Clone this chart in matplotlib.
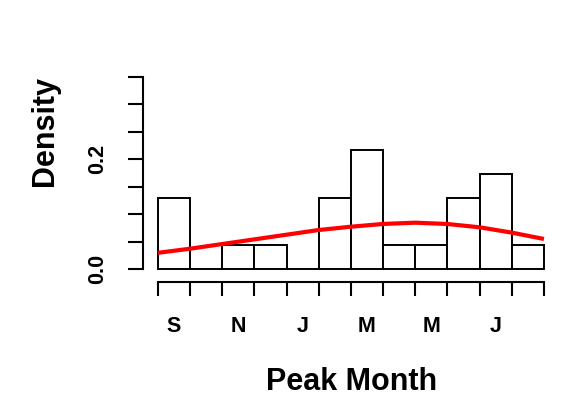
import matplotlib
matplotlib.use('Agg')
import matplotlib.pyplot as plt
import numpy as np

plt.rcParams['font.family'] = ['Liberation Sans', 'DejaVu Sans']
plt.rcParams['font.weight'] = 'bold'

# histogram: 12 monthly bins starting in September
bin_edges = [0, 1, 2, 3, 4, 5, 6, 7, 8, 9, 10, 11, 12]
counts = [3, 0, 1, 1, 0, 3, 5, 1, 1, 3, 4, 1]
month_pos = [0.5, 2.5, 4.5, 6.5, 8.5, 10.5]
month_labels = ['S', 'N', 'J', 'M', 'M', 'J']

# fitted density curve at the bin edges
curve_x = [0, 1, 2, 3, 4, 5, 6, 7, 8, 9, 10, 11, 12]
curve_y = [0.030, 0.0375, 0.046, 0.0545, 0.063, 0.0715, 0.0775,
           0.0825, 0.0848, 0.0824, 0.0764, 0.0667, 0.0552]

ytick_vals = [0.0, 0.05, 0.10, 0.15, 0.20, 0.25, 0.30, 0.35]
ytick_text = ['0.0', '', '', '', '0.2', '', '', '']

density = np.array(counts) / sum(counts)

fig = plt.figure(figsize=(5.62, 3.97), dpi=100)
ax = fig.add_axes([0.2536, 0.2889, 0.7418, 0.5373])

ax.bar(bin_edges[:-1], density, width=1, align='edge', color='white',
       edgecolor='black', linewidth=1.4, zorder=2)
ax.plot(curve_x, curve_y, color='#ff0000', linewidth=3, zorder=3,
        solid_capstyle='butt', solid_joinstyle='round')

ax.set_xlim(-0.48, 12.48)
ax.set_ylim(-0.0236, 0.3642)

for s in ['top', 'right']:
    ax.spines[s].set_visible(False)
ax.spines['left'].set_bounds(0, 0.35)
ax.spines['bottom'].set_bounds(0, 12)
ax.spines['left'].set_linewidth(1.5)
ax.spines['bottom'].set_linewidth(1.5)

ax.set_xticks(bin_edges)
ax.set_xticklabels([''] * len(bin_edges))
ax.set_xticks(month_pos, minor=True)
ax.set_xticklabels(month_labels, minor=True, fontsize=15.5, fontweight='bold')
ax.tick_params(axis='x', which='major', length=10, width=1.5)
ax.tick_params(axis='x', which='minor', length=0, pad=24)

ax.set_yticks(ytick_vals)
ax.set_yticklabels(ytick_text, rotation=90, va='center', fontsize=15.5,
                   fontweight='bold')
ax.tick_params(axis='y', length=10.5, width=1.5, pad=14)

fig.text(45 / 562, 1 - 131.5 / 397, 'Density', rotation=90, ha='center',
         va='center', fontsize=22, fontweight='bold')
fig.text(352 / 562, 1 - 390 / 397, 'Peak Month', ha='center',
         va='baseline', fontsize=22, fontweight='bold')

fig.savefig('out.png', dpi=100)
